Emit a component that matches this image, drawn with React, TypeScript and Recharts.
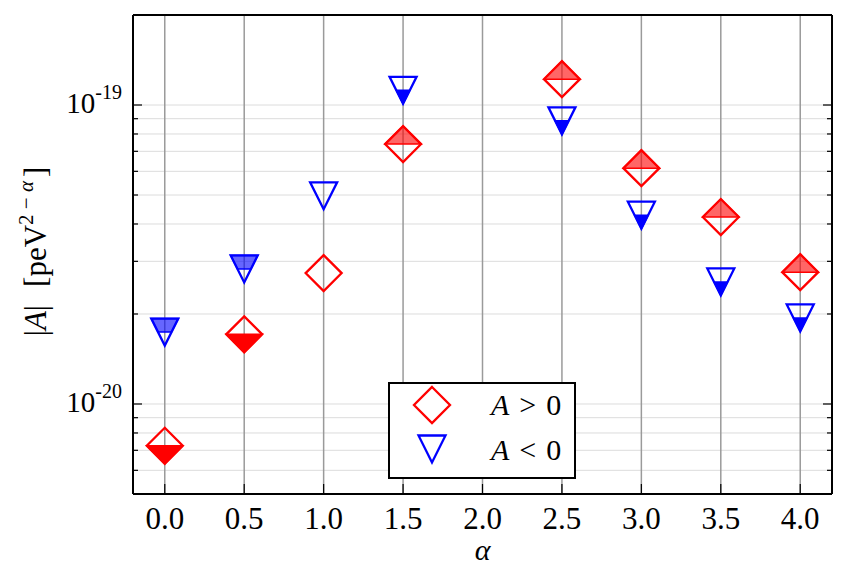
import React from "react";
import {
  CartesianGrid,
  Legend,
  Scatter,
  ScatterChart,
  XAxis,
  YAxis,
} from "recharts";

// alpha values where A was fitted
const alphas = [0.0, 0.5, 1.0, 1.5, 2.5, 3.0, 3.5, 4.0];
// |A| for the A > 0 fits
const positiveA = [7.25e-21, 1.71e-20, 2.74e-20, 7.4e-20, 1.22e-19, 6.15e-20, 4.22e-20, 2.76e-20];
// |A| for the A < 0 fits
const negativeA = [1.74e-20, 2.83e-20, 4.97e-20, 1.12e-19, 8.85e-20, 4.28e-20, 2.56e-20, 1.94e-20];

const xTicks = [0, 0.5, 1, 1.5, 2, 2.5, 3, 3.5, 4];
const yTicks = [
  6e-21, 7e-21, 8e-21, 9e-21,
  1e-20, 2e-20, 3e-20, 4e-20, 5e-20, 6e-20, 7e-20, 8e-20, 9e-20,
  1e-19,
];

// marker half-fill style per point (matplotlib fillstyle)
const positiveHalf = ["bottom", "bottom", "none", "top", "top", "top", "top", "top"];
const negativeHalf = ["top", "top", "none", "bottom", "bottom", "bottom", "bottom", "bottom"];

const positiveRows = alphas.map((a, i) => ({ alpha: a, value: positiveA[i], half: positiveHalf[i] }));
const negativeRows = alphas.map((a, i) => ({ alpha: a, value: negativeA[i], half: negativeHalf[i] }));

const FONT = "Liberation Serif";
const RED = "#ff0000";
const BLUE = "#0000ff";

const isDecade = (v: number) => Math.abs(Math.log10(v) - Math.round(Math.log10(v))) < 1e-6;

function halfOpacity(half: string) {
  return half === "bottom" ? 1 : 0.6;
}

function Diamond({ cx, cy, color, half, h = 18 }: any) {
  const outline = `${cx},${cy - h} ${cx + h},${cy} ${cx},${cy + h} ${cx - h},${cy}`;
  const part =
    half === "top"
      ? `${cx - h},${cy} ${cx},${cy - h} ${cx + h},${cy}`
      : `${cx - h},${cy} ${cx},${cy + h} ${cx + h},${cy}`;
  return (
    <g>
      {half !== "none" && (
        <polygon points={part} fill={color} fillOpacity={halfOpacity(half)} stroke={color} strokeWidth={1.5} />
      )}
      <polygon points={outline} fill="none" stroke={color} strokeWidth={2.3} strokeLinejoin="miter" />
    </g>
  );
}

function Triangle({ cx, cy, color, half, h = 13.5 }: any) {
  const outline = `${cx - h},${cy - h} ${cx + h},${cy - h} ${cx},${cy + h}`;
  const part =
    half === "top"
      ? `${cx - h},${cy - h} ${cx + h},${cy - h} ${cx + h / 2},${cy} ${cx - h / 2},${cy}`
      : `${cx - h / 2},${cy} ${cx + h / 2},${cy} ${cx},${cy + h}`;
  return (
    <g>
      {half !== "none" && (
        <polygon points={part} fill={color} fillOpacity={halfOpacity(half)} stroke={color} strokeWidth={1.5} />
      )}
      <polygon points={outline} fill="none" stroke={color} strokeWidth={2.3} strokeLinejoin="miter" />
    </g>
  );
}

const LeftTick = (props: any) => {
  const { x, y, payload } = props;
  const v = payload.value;
  const major = isDecade(v);
  return (
    <g>
      <line x1={x} x2={x + (major ? 9 : 5)} y1={y} y2={y} stroke="#000" strokeWidth={1.2} />
      {major && (
        <text x={x - 11} y={y + 8} textAnchor="end" fontFamily={FONT} fontSize={29} fill="#000">
          10
          <tspan dy={-14} fontSize={20}>
            {String(Math.round(Math.log10(v)))}
          </tspan>
        </text>
      )}
    </g>
  );
};

const RightTick = (props: any) => {
  const { x, y, payload } = props;
  const major = isDecade(payload.value);
  return <line x1={x} x2={x - (major ? 9 : 5)} y1={y} y2={y} stroke="#000" strokeWidth={1.2} />;
};

const BottomTick = (props: any) => {
  const { x, y, payload } = props;
  return (
    <g>
      <line x1={x} x2={x} y1={y} y2={y - 10} stroke="#000" strokeWidth={1.2} />
      <text x={x} y={y + 35} textAnchor="middle" fontFamily={FONT} fontSize={31} fill="#000">
        {payload.value.toFixed(1)}
      </text>
    </g>
  );
};

const TopTick = (props: any) => {
  const { x, y } = props;
  return <line x1={x} x2={x} y1={y} y2={y + 10} stroke="#000" strokeWidth={1.2} />;
};

const XTitle = (props: any) => {
  const { viewBox } = props;
  return (
    <text
      x={viewBox.x + viewBox.width / 2}
      y={viewBox.y + 66}
      textAnchor="middle"
      fontFamily={FONT}
      fontStyle="italic"
      fontSize={30}
      fill="#000"
    >
      α
    </text>
  );
};

const YTitle = (props: any) => {
  const { viewBox } = props;
  const cx = viewBox.x + 46;
  const cy = viewBox.y + viewBox.height / 2 - 3;
  return (
    <text
      x={cx}
      y={cy}
      transform={`rotate(-90, ${cx}, ${cy})`}
      textAnchor="middle"
      fontFamily={FONT}
      fontSize={31}
      fill="#000"
    >
      |<tspan fontStyle="italic">A</tspan>|
      <tspan dx={18}>[peV</tspan>
      <tspan dy={-13} fontSize={21}>
        2 −{" "}
      </tspan>
      <tspan fontSize={21} fontStyle="italic">
        α
      </tspan>
      <tspan dy={13} dx={4}>
        ]
      </tspan>
    </text>
  );
};

const LegendBox = () => (
  <div
    style={{
      width: 188,
      height: 97,
      boxSizing: "border-box",
      border: "2px solid #000",
      background: "#fff",
    }}
  >
    <svg width={184} height={93} style={{ display: "block" }}>
      <Diamond cx={42} cy={21} color={RED} half="none" />
      <Triangle cx={42} cy={65} color={BLUE} half="none" />
      <text x={101} y={31} fontFamily={FONT} fontSize={30} fill="#000">
        <tspan fontStyle="italic">A</tspan>
        <tspan dx={10}>&gt;</tspan>
        <tspan dx={10}>0</tspan>
      </text>
      <text x={101} y={76} fontFamily={FONT} fontSize={30} fill="#000">
        <tspan fontStyle="italic">A</tspan>
        <tspan dx={10}>&lt;</tspan>
        <tspan dx={10}>0</tspan>
      </text>
    </svg>
  </div>
);

export default function App() {
  return (
    <div style={{ position: "absolute", left: 0, top: 0, background: "#fff", fontFamily: FONT }}>
      <ScatterChart width={847} height={586} margin={{ top: 0, right: 0, bottom: 0, left: 0 }}>
        <CartesianGrid vertical={false} stroke="#dcdcdc" strokeWidth={1} />
        <CartesianGrid horizontal={false} stroke="#9a9a9a" strokeWidth={1.5} />
        <XAxis
          dataKey="alpha"
          type="number"
          domain={[-0.2, 4.2]}
          allowDataOverflow
          ticks={xTicks}
          interval={0}
          height={92}
          tickSize={0}
          tickMargin={0}
          tickLine={false}
          tick={<BottomTick />}
          axisLine={{ stroke: "#000", strokeWidth: 2 }}
          label={<XTitle />}
        />
        <XAxis
          xAxisId="top"
          orientation="top"
          type="number"
          domain={[-0.2, 4.2]}
          allowDataOverflow
          ticks={xTicks}
          interval={0}
          height={15}
          tickSize={0}
          tickMargin={0}
          tickLine={false}
          tick={<TopTick />}
          axisLine={{ stroke: "#000", strokeWidth: 2 }}
        />
        <YAxis
          dataKey="value"
          type="number"
          scale="log"
          domain={[5e-21, 2e-19]}
          allowDataOverflow
          ticks={yTicks}
          interval={0}
          width={133}
          tickSize={0}
          tickMargin={0}
          tickLine={false}
          tick={<LeftTick />}
          axisLine={{ stroke: "#000", strokeWidth: 2 }}
          label={<YTitle />}
        />
        <YAxis
          yAxisId="right"
          orientation="right"
          type="number"
          scale="log"
          domain={[5e-21, 2e-19]}
          allowDataOverflow
          ticks={yTicks}
          interval={0}
          width={15}
          tickSize={0}
          tickMargin={0}
          tickLine={false}
          tick={<RightTick />}
          axisLine={{ stroke: "#000", strokeWidth: 2 }}
        />
        <Scatter
          name="A > 0"
          data={positiveRows}
          isAnimationActive={false}
          shape={(p: any) => <Diamond cx={p.cx} cy={p.cy} color={RED} half={p.payload.half} />}
        />
        <Scatter
          name="A < 0"
          data={negativeRows}
          isAnimationActive={false}
          shape={(p: any) => <Triangle cx={p.cx} cy={p.cy} color={BLUE} half={p.payload.half} />}
        />
        <Legend
          layout="horizontal"
          verticalAlign="middle"
          wrapperStyle={{ left: 388, top: 382, width: 188, height: 97 }}
          content={() => <LegendBox />}
        />
      </ScatterChart>
    </div>
  );
}
